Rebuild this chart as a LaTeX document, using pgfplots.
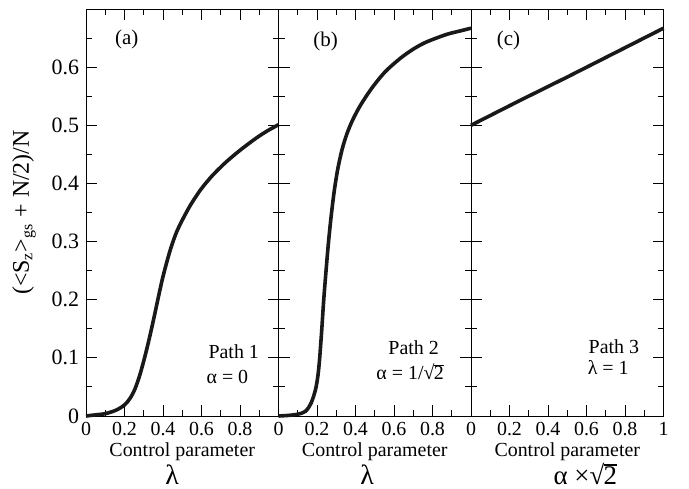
\documentclass[border=0pt]{standalone}
\usepackage{fontspec}
\setmainfont{Liberation Serif}
\usepackage{pgfplots}
\pgfplotsset{compat=1.18}

% square root of two with a drawn vinculum over the radicand
\newcommand{\rtwo}{√\kern-0.03em\rlap{\rule[0.70em]{0.5em}{0.05em}}2}

\pgfplotstableread{
x     y
0.000 0.000
0.050 0.002
0.100 0.004
0.156 0.010
0.200 0.019
0.230 0.031
0.255 0.047
0.280 0.071
0.305 0.101
0.330 0.135
0.355 0.172
0.375 0.203
0.395 0.233
0.415 0.259
0.440 0.288
0.470 0.316
0.505 0.340
0.545 0.364
0.595 0.389
0.655 0.413
0.725 0.436
0.800 0.457
0.880 0.477
0.940 0.490
1.000 0.501
}\pathone

\pgfplotstableread{
x     y
0.000 0.000
0.050 0.001
0.100 0.003
0.140 0.008
0.169 0.022
0.192 0.045
0.205 0.070
0.214 0.100
0.225 0.150
0.235 0.200
0.247 0.250
0.260 0.300
0.274 0.345
0.290 0.388
0.308 0.425
0.330 0.458
0.355 0.485
0.385 0.509
0.425 0.534
0.485 0.564
0.554 0.592
0.632 0.615
0.700 0.631
0.760 0.642
0.820 0.650
0.880 0.657
0.940 0.662
1.000 0.667
}\pathtwo

\pgfplotstableread{
x     y
0.000 0.500
0.250 0.542
0.500 0.583
0.750 0.625
1.000 0.667
}\paththree

\tikzset{
  curve/.style={line width=1.8bp, black!90},
  lbl/.style={font=\fontsize{10.5}{12}\selectfont, anchor=west},
  txt/.style={font=\fontsize{10}{12}\selectfont},
  cp/.style={font=\fontsize{10}{12}\selectfont},
  sym/.style={font=\fontsize{14}{16}\selectfont},
}

\pgfplotsset{
  panel/.style={
    scale only axis, width=96.25bp, height=203.5bp,
    xmin=0, xmax=1, ymin=0, ymax=0.7,
    clip=false,
    axis line style={line width=0.5bp},
    every tick/.style={line width=0.5bp, black},
    tick align=inside, tick pos=both,
    xtick={0,0.2,0.4,0.6,0.8,1},
    minor xtick={0.1,0.3,0.5,0.7,0.9},
    ytick={0,0.1,0.2,0.3,0.4,0.5,0.6},
    minor ytick={0.05,0.15,0.25,0.35,0.45,0.55,0.65},
    major tick length=5.5bp, minor tick length=3bp,
    /pgf/number format/assume math mode=true,
    xticklabel style={font=\fontsize{10}{12}\selectfont, yshift=0.5bp},
    yticklabel style={font=\fontsize{11}{13}\selectfont},
  },
}

\begin{document}
\begin{tikzpicture}
\path[use as bounding box] (-43bp,-36.5bp) rectangle (301.5bp,208bp);

% panel (a): path 1, alpha = 0
\begin{axis}[panel, at={(0bp,0bp)},
  xticklabels={0,0.2,0.4,0.6,0.8,},
  yticklabels={0,0.1,0.2,0.3,0.4,0.5,0.6},
]
\addplot[curve, smooth] table {\pathone};
\node[rotate=90, font=\fontsize{12}{14}\selectfont]
  at ([xshift=-31bp]rel axis cs:0,0.5)
  {(<S\textsubscript{z}>\textsubscript{gs} + N/2)/N};
\node[lbl] at (rel axis cs:0.115,0.924) {(a)};
\node[txt, anchor=west] at (rel axis cs:0.60,0.157) {Path 1};
\node[txt, anchor=west] at (rel axis cs:0.59,0.096) {α = 0};
\node[cp] at ([yshift=-18bp]rel axis cs:0.5,0) {Control parameter};
\node[sym] at ([yshift=-29.5bp]rel axis cs:0.448,0) {λ};
\end{axis}

% panel (b): path 2, alpha = 1/sqrt(2)
\begin{axis}[panel, at={(96.25bp,0bp)},
  xticklabels={0,0.2,0.4,0.6,0.8,},
  yticklabels={},
]
\addplot[curve, smooth] table {\pathtwo};
\node[lbl] at (rel axis cs:0.145,0.92) {(b)};
\node[txt] at (rel axis cs:0.702,0.167) {Path 2};
\node[txt] at (rel axis cs:0.684,0.108) {α = 1/\rtwo};
\node[cp] at ([yshift=-18bp]rel axis cs:0.5,0) {Control parameter};
\node[sym] at ([yshift=-29.5bp]rel axis cs:0.461,0) {λ};
\end{axis}

% panel (c): path 3, lambda = 1
\begin{axis}[panel, at={(192.5bp,0bp)},
  xticklabels={0,0.2,0.4,0.6,0.8,1},
  yticklabels={},
]
\addplot[curve] table {\paththree};
\node[lbl] at (rel axis cs:0.098,0.922) {(c)};
\node[txt, anchor=west] at (rel axis cs:0.575,0.170) {Path 3};
\node[txt, anchor=west] at (rel axis cs:0.570,0.118) {λ = 1};
\node[cp] at ([yshift=-18bp]rel axis cs:0.5,0) {Control parameter};
\node[sym, font=\fontsize{13.5}{16}\selectfont] at ([yshift=-29bp]rel axis cs:0.594,0) {α ×\rtwo};
\end{axis}
\end{tikzpicture}
\end{document}
